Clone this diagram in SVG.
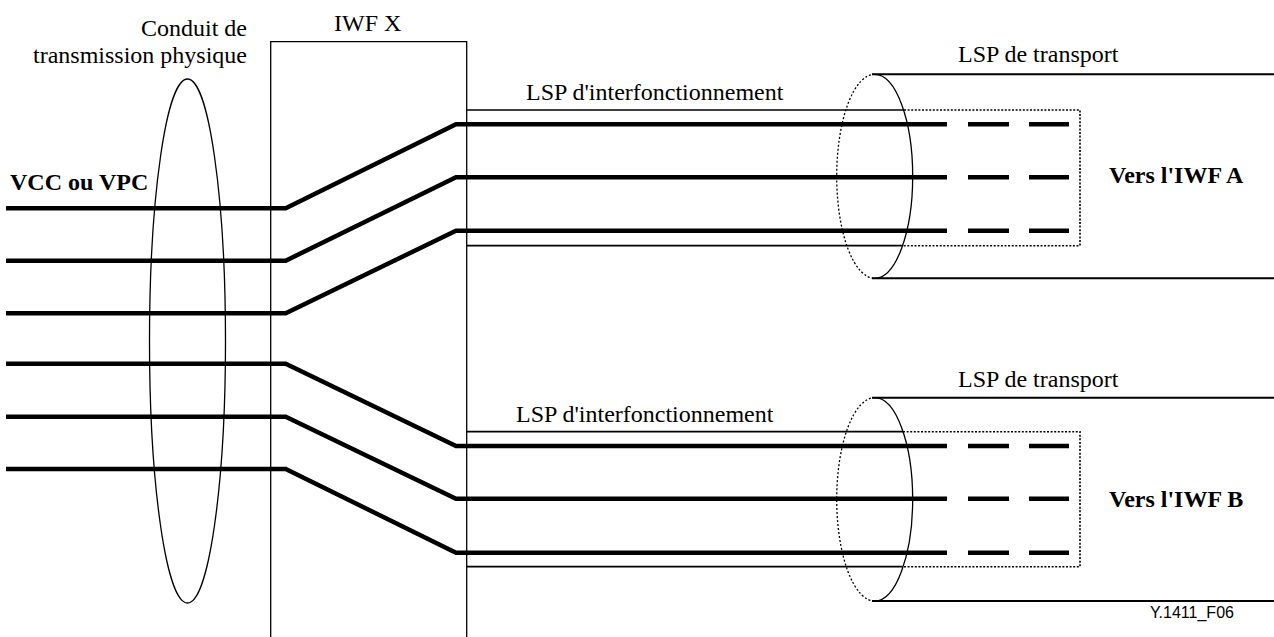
<svg xmlns="http://www.w3.org/2000/svg" width="1274" height="637" viewBox="0 0 1274 637">
<style>
.t{font-family:"Liberation Serif","Times New Roman",serif;font-size:24px;fill:#000}
.b{font-weight:bold}
.thin{fill:none;stroke:#000;stroke-width:1.3}
.mid{fill:none;stroke:#000;stroke-width:2}
.dot{fill:none;stroke:#000;stroke-width:1.6;stroke-dasharray:2,1.6}
.edot{fill:none;stroke:#000;stroke-width:1.3;stroke-dasharray:2,2}
.vc{fill:none;stroke:#000;stroke-width:4.5;stroke-linejoin:miter}
.dash{fill:none;stroke:#000;stroke-width:4.5;stroke-dasharray:41,20}
</style>
<rect width="1274" height="637" fill="#fff"/>
<g id="conduit">
<ellipse class="thin" cx="187.5" cy="341" rx="38" ry="262"/>
<text class="t" x="247" y="36" text-anchor="end">Conduit de</text>
<text class="t" x="247" y="63" text-anchor="end">transmission physique</text>
</g>
<g id="iwfx">
<path class="thin" d="M270.7,640 V41.7 H466.7 V640"/>
<text class="t" x="334" y="31">IWF X</text>
</g>
<g id="vcc-label">
<text class="t b" x="10" y="190">VCC ou VPC</text>
</g>
<g id="lsp-transport-a">
<path class="mid" d="M872,74.3 H1274 M872,278.3 H1274"/>
<path class="edot" d="M874.7,74.3 A38,102 0 0 0 874.7,278.3"/>
<path class="thin" d="M874.7,74.3 A38,102 0 0 1 874.7,278.3"/>
<text class="t" x="958" y="61.7">LSP de transport</text>
</g>
<g id="lsp-iw-a">
<path class="mid" d="M466.7,110 H904 M466.7,245.7 H902.5" style="stroke-width:1.7"/>
<path class="dot" d="M904,110 H1080 V245.7 H902.5"/>
<text class="t" x="526" y="100">LSP d'interfonctionnement</text>
</g>
<g id="iwf-a">
<text class="t b" x="1109" y="183.3">Vers l'IWF A</text>
</g>
<g id="lsp-transport-b">
<path class="mid" d="M872,397.7 H1274 M872,601 H1274"/>
<path class="edot" d="M874.7,397.7 A38,101.65 0 0 0 874.7,601"/>
<path class="thin" d="M874.7,397.7 A38,101.65 0 0 1 874.7,601"/>
<text class="t" x="958" y="386.7">LSP de transport</text>
</g>
<g id="lsp-iw-b">
<path class="mid" d="M466.7,431.7 H903 M466.7,566.7 H902.5" style="stroke-width:1.7"/>
<path class="dot" d="M903,431.7 H1080 V566.7 H902.5"/>
<text class="t" x="516" y="421.7">LSP d'interfonctionnement</text>
</g>
<g id="iwf-b">
<text class="t b" x="1109" y="507.3">Vers l'IWF B</text>
</g>
<g id="connectors">
<path class="vc" d="M6,208.3 H285.7 L456,124.3 H947"/>
<path class="vc" d="M6,260.7 H285.7 L456,177.3 H947"/>
<path class="vc" d="M6,313.3 H285.7 L456,230.7 H947"/>
<path class="vc" d="M6,363.7 H285.7 L456,446 H947"/>
<path class="vc" d="M6,416.7 H285.7 L456,498.7 H947"/>
<path class="vc" d="M6,469 H285.7 L456,552.7 H947"/>
<path class="dash" d="M968,124.3 H1069 M968,177.3 H1069 M968,230.7 H1069 M968,446 H1069 M968,498.7 H1069 M968,552.7 H1069"/>
</g>
<text x="1150" y="617.7" style="font-family:'Liberation Sans',Arial,sans-serif;font-size:16px">Y.1411_F06</text>
</svg>
